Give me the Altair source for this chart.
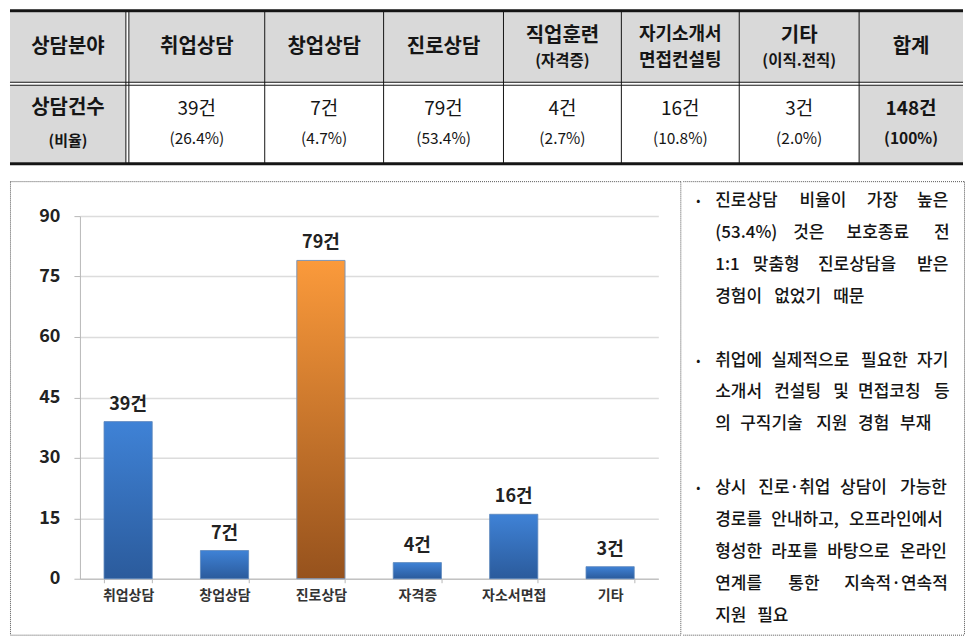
import altair as alt
import pandas as pd

FONT = "Noto Sans CJK KR"
INK = "#151515"
GRAY = "#d9d9d9"
DOT = "#555555"

# ---- data ----
header_main = ["상담분야", "취업상담", "창업상담", "진로상담", "직업훈련", "자기소개서", "기타", "합계"]
header_sub = ["", "", "", "", "(자격증)", "면접컨설팅", "(이직.전직)", ""]
counts = [39, 7, 79, 4, 16, 3]
shares = ["26.4%", "4.7%", "53.4%", "2.7%", "10.8%", "2.0%"]
total_count = 148
total_share = "100%"
row_label = ["상담건수", "(비율)"]

chart_cats = ["취업상담", "창업상담", "진로상담", "자격증", "자소서면접", "기타"]
y_ticks = [0, 15, 30, 45, 60, 75, 90]

notes = [
    ["진로상담 비율이 가장 높은", "(53.4%) 것은 보호종료 전", "1:1 맞춤형 진로상담을 받은", "경험이 없었기 때문"],
    ["취업에 실제적으로 필요한 자기", "소개서 컨설팅 및 면접코칭 등", "의 구직기술 지원 경험 부재"],
    ["상시 진로·취업 상담이 가능한", "경로를 안내하고, 오프라인에서", "형성한 라포를 바탕으로 온라인",
     "연계를 통한 지속적·연속적", "지원 필요"],
]

# ---- table layout (pixels inside the table panel) ----
TW, TH = 954, 156
col_left = [0, 119, 255, 374, 494, 612, 730, 850]
col_right = [116, 255, 374, 494, 612, 730, 850, 954]
head_y = (3, 73)
body_y = (76, 153)

cells = []
for i in range(len(header_main)):
    cells.append(dict(x0=col_left[i], x1=col_right[i], y0=head_y[0], y1=head_y[1], fill=GRAY))
    body_fill = GRAY if i in (0, len(header_main) - 1) else "#ffffff"
    cells.append(dict(x0=col_left[i], x1=col_right[i], y0=body_y[0], y1=body_y[1], fill=body_fill))
cells = pd.DataFrame(cells)

rules = [dict(x0=0, x1=TW, y0=1.5, y1=1.5, w=3), dict(x0=0, x1=TW, y0=head_y[1], y1=head_y[1], w=1),
         dict(x0=0, x1=TW, y0=body_y[0], y1=body_y[0], w=1), dict(x0=0, x1=TW, y0=154.5, y1=154.5, w=3)]
for xv in [116] + col_left[1:]:
    rules.append(dict(x0=xv, x1=xv, y0=1.5, y1=154.5, w=1))
rules = pd.DataFrame(rules)

texts = []
for i, (m, s) in enumerate(zip(header_main, header_sub)):
    xc = (col_left[i] + col_right[i]) / 2
    if s:
        paren = s.startswith("(")
        texts.append(dict(xc=xc, yc=26 if not paren else 27, t=m, fs=20 if paren else 18, bold=True))
        texts.append(dict(xc=xc, yc=52, t=s, fs=15.5 if paren else 18, bold=True))
    else:
        texts.append(dict(xc=xc, yc=38, t=m, fs=20, bold=True))
xc0 = (col_left[0] + col_right[0]) / 2
texts.append(dict(xc=xc0, yc=99, t=row_label[0], fs=20, bold=True))
texts.append(dict(xc=xc0, yc=132, t=row_label[1], fs=15, bold=True))
for k, (c, s) in enumerate(zip(counts, shares)):
    xc = (col_left[k + 1] + col_right[k + 1]) / 2
    texts.append(dict(xc=xc, yc=100, t=f"{c}건", fs=19, bold=False))
    texts.append(dict(xc=xc, yc=130, t=f"({s})", fs=15.5, bold=False))
xcl = (col_left[-1] + col_right[-1]) / 2
texts.append(dict(xc=xcl, yc=100, t=f"{total_count}건", fs=19, bold=True))
texts.append(dict(xc=xcl, yc=130, t=f"({total_share})", fs=15.5, bold=True))
texts = pd.DataFrame(texts)

tx_scale = alt.Scale(domain=[0, TW], nice=False, zero=False)
ty_scale = alt.Scale(domain=[0, TH], nice=False, zero=False, reverse=True)

t_cells = alt.Chart(cells).mark_rect().encode(
    x=alt.X("x0:Q", scale=tx_scale, axis=None),
    x2="x1:Q",
    y=alt.Y("y0:Q", scale=ty_scale, axis=None),
    y2="y1:Q",
    fill=alt.Fill("fill:N", scale=None),
)
t_rules = alt.Chart(rules).mark_rule(color=INK).encode(
    x=alt.X("x0:Q", scale=tx_scale, axis=None), x2="x1:Q",
    y=alt.Y("y0:Q", scale=ty_scale, axis=None), y2="y1:Q",
    strokeWidth=alt.StrokeWidth("w:Q", scale=None),
)
t_bold = alt.Chart(texts).transform_filter("datum.bold").mark_text(
    font=FONT, fontWeight="bold", color=INK, baseline="middle"
).encode(x=alt.X("xc:Q", scale=tx_scale, axis=None), y=alt.Y("yc:Q", scale=ty_scale, axis=None),
         text="t:N", size=alt.Size("fs:Q", scale=None))
t_norm = alt.Chart(texts).transform_filter("!datum.bold").mark_text(
    font=FONT, color=INK, baseline="middle"
).encode(x=alt.X("xc:Q", scale=tx_scale, axis=None), y=alt.Y("yc:Q", scale=ty_scale, axis=None),
         text="t:N", size=alt.Size("fs:Q", scale=None))

table = alt.layer(t_cells, t_rules, t_bold, t_norm).properties(width=TW, height=TH)

# ---- bar chart: plot area is the whole dotted box, axes drawn inside ----
BW, BH = 672, 455
PLOT_L, PLOT_R = 70, 649
PLOT_T, PLOT_B = 35, 398

bars_df = pd.DataFrame({
    "cat": chart_cats,
    "value": counts,
    "label": [f"{c}건" for c in counts],
    "top": [c == max(counts) for c in counts],
})

blue_grad = alt.LinearGradient(
    gradient="linear", x1=0, x2=0, y1=0, y2=1,
    stops=[alt.GradientStop(offset=0, color="#3f82d6"), alt.GradientStop(offset=1, color="#2b5b9c")],
)
orange_grad = alt.LinearGradient(
    gradient="linear", x1=0, x2=0, y1=0, y2=1,
    stops=[alt.GradientStop(offset=0, color="#fb9a3b"), alt.GradientStop(offset=1, color="#96521d")],
)

base = alt.Chart(bars_df).encode(
    x=alt.X("cat:N", sort=chart_cats, title=None,
            scale=alt.Scale(range=[PLOT_L, PLOT_R], paddingInner=0.5, paddingOuter=0.25),
            axis=alt.Axis(offset=PLOT_B - BH, labelAngle=0, labelFont=FONT, labelFontSize=14,
                          labelFontWeight="bold", labelColor="#333333", domainColor="#b8b8b8",
                          tickColor="#b8b8b8", tickSize=4, tickBand="extent", labelPadding=6)),
    y=alt.Y("value:Q", title=None, scale=alt.Scale(domain=[0, 90], range=[PLOT_B, PLOT_T], nice=False),
            axis=alt.Axis(offset=-PLOT_L, values=y_ticks, labelFont=FONT, labelFontSize=18,
                          labelFontWeight="bold", labelColor="#222222", domainColor="#b8b8b8",
                          tickColor="#b8b8b8", tickSize=6, labelPadding=14,
                          gridColor="#dcdcdc", gridWidth=1.5)),
)
bars_blue = base.transform_filter("!datum.top").mark_bar(fill=blue_grad, stroke="#5d86bb", strokeWidth=0.8)
bars_orange = base.transform_filter("datum.top").mark_bar(fill=orange_grad, stroke="#7e96b6", strokeWidth=1)
bar_text = base.mark_text(font=FONT, fontSize=18, fontWeight="bold", color="#222222",
                          baseline="alphabetic", dy=-12).encode(text="label:N")

one = pd.DataFrame({"k": [0]})
frame_style = dict(color=DOT, strokeDash=[1, 1], strokeWidth=1)


def hline(x1, x2, y):
    return alt.Chart(one).mark_rule(**frame_style).encode(x=alt.value(x1), x2=alt.value(x2), y=alt.value(y))


def vline(x, y1, y2):
    return alt.Chart(one).mark_rule(**frame_style).encode(x=alt.value(x), y=alt.value(y1), y2=alt.value(y2))


bar_chart = alt.layer(
    bars_blue, bars_orange, bar_text,
    hline(0.5, BW - 0.5, 0.5), hline(0.5, BW - 0.5, BH - 0.5),
    vline(0.5, 0.5, BH - 0.5), vline(BW - 0.5, 0.5, BH - 0.5),
).properties(width=BW, height=BH)

# ---- notes panel ----
FS = 17
PW, PH = 282, 455
TEXT_L, TEXT_R = 32, 268


def est_width(s):
    w = 0.0
    for ch in s:
        if "\uac00" <= ch <= "\ud7a3":
            w += FS
        elif ch.isdigit():
            w += 0.55 * FS
        elif ch in "()":
            w += 0.33 * FS
        elif ch == "%":
            w += 0.85 * FS
        elif ch in ".,:·":
            w += 0.28 * FS
        else:
            w += 0.5 * FS
    return w


words, bullets = [], []
row = 0
for para in notes:
    bullets.append(dict(row=row, b="•"))
    for li, line in enumerate(para):
        ws = line.split(" ")
        last = li == len(para) - 1
        if last or len(ws) == 1:
            gap = 8
        else:
            gap = (TEXT_R - TEXT_L - sum(est_width(w) for w in ws)) / (len(ws) - 1)
        x = TEXT_L
        for w in ws:
            words.append(dict(row=row, xw=x, word=w))
            x += est_width(w) + gap
        row += 1
    row += 1
words = pd.DataFrame(words)
bullets = pd.DataFrame(bullets)

py_scale = alt.Scale(domain=[-0.63, 13.63], nice=False, zero=False, reverse=True)
n_words = alt.Chart(words).mark_text(font=FONT, fontSize=FS, fontWeight=500, color=INK,
                                     align="left", baseline="middle").encode(
    x=alt.X("xw:Q", scale=alt.Scale(domain=[0, PW], nice=False, zero=False), axis=None),
    y=alt.Y("row:Q", scale=py_scale, axis=None), text="word:N",
)
n_bul = alt.Chart(bullets).mark_text(font=FONT, fontSize=12, color=INK, align="center", baseline="middle").encode(
    x=alt.value(15), y=alt.Y("row:Q", scale=py_scale, axis=None), text="b:N",
)
notes_panel = alt.layer(
    n_words, n_bul,
    hline(0, PW - 0.5, 0.5), hline(0, PW - 0.5, PH - 0.5), vline(PW - 0.5, 0.5, PH - 0.5),
).properties(width=PW, height=PH)

chart = alt.vconcat(
    table,
    alt.hconcat(bar_chart, notes_panel, spacing=0),
    spacing=14,
).properties(padding=0).configure_view(stroke="transparent")

chart.save("out.html", embed_options={"renderer": "svg", "actions": False})
